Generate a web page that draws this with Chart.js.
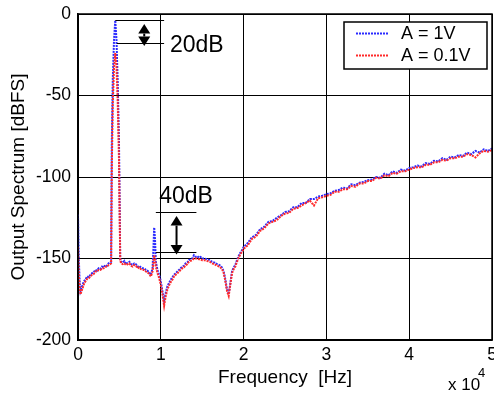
<!DOCTYPE html>
<html>
<head>
<meta charset="utf-8">
<script src="https://cdn.jsdelivr.net/npm/chart.js@4.4.0/dist/chart.umd.min.js"></script>
<style>
  html, body { margin: 0; padding: 0; background: #fff; }
  #wrap { width: 494px; height: 394px; position: relative; }
</style>
</head>
<body>
<div id="wrap"><canvas id="spectrum"></canvas></div>
<script>
// frequency axis in units of 10^4 Hz
const freq = [
  0, 0.01, 0.02, 0.03, 0.05, 0.07, 0.09, 0.11, 0.13, 0.15, 0.17, 0.19, 0.21, 0.23, 0.25, 0.27, 0.29, 0.31, 0.33, 0.35, 0.37, 0.39,
  0.40, 0.408, 0.42, 0.435, 0.45, 0.465, 0.48, 0.495, 0.51,
  0.52, 0.54, 0.56, 0.58, 0.60, 0.62, 0.64, 0.66, 0.68, 0.70, 0.72, 0.74, 0.76, 0.78, 0.80, 0.82, 0.84, 0.86, 0.88,
  0.90, 0.91, 0.92, 0.93, 0.94, 0.96, 0.98, 1.00, 1.02, 1.04, 1.06, 1.08, 1.10, 1.12, 1.14, 1.16, 1.18, 1.20, 1.22, 1.24,
  1.26, 1.28, 1.30, 1.32, 1.34, 1.36, 1.38, 1.40, 1.42, 1.44, 1.46, 1.48, 1.50, 1.53, 1.56, 1.59, 1.62, 1.65, 1.68, 1.71,
  1.74, 1.76, 1.78, 1.80, 1.82, 1.84, 1.86, 1.88, 1.90, 1.92, 1.94, 1.96, 1.98, 2.00,
  2.05, 2.10, 2.15, 2.20, 2.25, 2.30, 2.35, 2.40, 2.45, 2.50, 2.55, 2.60, 2.65, 2.70, 2.75, 2.80, 2.85, 2.90, 2.95, 3.00,
  3.05, 3.10, 3.15, 3.20, 3.25, 3.30, 3.35, 3.40, 3.45, 3.50, 3.55, 3.60, 3.65, 3.70, 3.75, 3.80, 3.85, 3.90, 3.95, 4.00,
  4.05, 4.10, 4.15, 4.20, 4.25, 4.30, 4.35, 4.40, 4.45, 4.50, 4.55, 4.60, 4.65, 4.70, 4.75, 4.80, 4.85, 4.90, 4.95, 5.00
];

// A = 1V
const spec1V = [
  -123, -150, -164, -170, -167, -164, -163, -161, -161.5, -160, -159, -158.5, -157, -157.5, -156, -156.5, -155, -155.5, -154, -154.5, -153, -152.5,
  -152, -80, -40, -16, -4, -16, -42, -78, -150,
  -152, -152.5, -151.5, -153.5, -152.5, -152, -153.5, -154, -153, -153.5, -155, -154.5, -155.5, -156, -156, -157, -157.5, -158.5, -160,
  -156, -145, -131, -138, -152, -157, -160, -164, -170, -176, -171, -167, -165, -163, -161.5, -160, -159, -158, -157, -156,
  -155, -154.5, -153, -152.5, -151, -150.5, -150, -148, -149, -148.5, -149.5, -149, -150, -150, -150.5, -151, -152, -152.5, -153.5, -154,
  -155.5, -158, -163, -169, -172, -165, -158, -155.5, -154, -151, -148.5, -146.5, -145, -143,
  -140.5, -137, -135.5, -132, -130.5, -127.5, -127, -125, -123.5, -121.5, -121, -118.5, -118.5, -116, -116, -113.5, -113.5, -112, -111.5, -110.5,
  -110, -108.5, -108, -106.5, -107, -104.5, -105, -103.5, -103, -102, -101.5, -100, -100.5, -98, -99, -96.5, -97.5, -95.5, -96, -94.5,
  -94, -93, -93.5, -91.5, -92, -90, -90.5, -88.5, -89.5, -87.5, -88, -86.5, -87, -85, -86, -84, -85, -83, -84, -82.5
];

// A = 0.1V
const spec01V = [
  -143, -160, -168, -172, -169, -166, -164, -162.5, -162, -161, -160, -159.5, -158, -158, -157, -157, -156, -156, -155, -155, -154, -153.5,
  -153, -95, -55, -33, -24, -32, -55, -90, -151,
  -153, -153.5, -153, -154, -153.5, -153, -154.5, -155, -154, -154.5, -156, -155.5, -156.5, -157, -157, -158, -158.5, -159.5, -161,
  -158, -153, -148, -150, -155, -159, -162, -166, -172, -179, -173, -169, -166.5, -164.5, -163, -161, -160, -159, -158, -157,
  -156, -155.5, -154, -153.5, -152, -151.5, -151, -150, -150, -150, -150.5, -150.5, -151, -151, -151.5, -152, -153, -153.5, -154.5, -155,
  -156.5, -159, -164, -170, -173, -166, -159, -156.5, -155, -152, -149.5, -147.5, -146, -144,
  -142, -138, -136.5, -133, -131.5, -128.5, -127.5, -126.5, -124, -122.5, -122, -119.5, -119, -117.5, -116, -114.5, -117.5, -113, -112.5, -111.5,
  -111, -109, -109, -107.5, -107.5, -105.5, -106, -104, -104, -102.5, -102.5, -100.5, -101, -99, -99.5, -97.5, -98, -96.5, -96.5, -95.5,
  -94.5, -94, -94, -92.5, -92.5, -91, -91, -89.5, -90, -88.5, -88.5, -87.5, -87.5, -86, -86.5, -88, -85.5, -84, -84.5, -83.5
];

const seriesNames = ['A = 1V', 'A = 0.1V'];
const seriesColors = ['#2a2aff', '#ff2a2a'];

// annotations, in data units
const notes = [
  { label: '20dB', tx: 1.11, ty: -23.6, lines: [[0.45, 1.04, -3.7], [0.47, 1.04, -18]], arrow: [0.80, -6.2, -19.6] },
  { label: '40dB', tx: 0.98, ty: -115.8, lines: [[0.94, 1.43, -121.7], [0.94, 1.43, -145.8]], arrow: [1.19, -124, -147.5] }
];

const FONT = 'Liberation Sans, Arial, Helvetica, sans-serif';

const pts = arr => arr.map((v, i) => ({ x: freq[i], y: v }));

const extras = {
  id: 'extras',
  afterDatasetsDraw(chart) {
    const { ctx, chartArea: a, scales: { x, y } } = chart;
    ctx.save();
    // frame
    ctx.strokeStyle = '#000';
    ctx.lineWidth = 1.5;
    ctx.strokeRect(a.left, a.top, a.right - a.left, a.bottom - a.top);

    // dB markers
    ctx.fillStyle = '#000';
    ctx.lineWidth = 1.2;
    notes.forEach(n => {
      n.lines.forEach(l => {
        const yy = Math.round(y.getPixelForValue(l[2])) + 0.5;
        ctx.beginPath();
        ctx.moveTo(x.getPixelForValue(l[0]), yy);
        ctx.lineTo(x.getPixelForValue(l[1]), yy);
        ctx.stroke();
      });
      const ax = x.getPixelForValue(n.arrow[0]);
      const y1 = y.getPixelForValue(n.arrow[1]);
      const y2 = y.getPixelForValue(n.arrow[2]);
      const h = 9.5, w = 6;
      ctx.beginPath();
      ctx.moveTo(ax, y1); ctx.lineTo(ax - w, y1 + h); ctx.lineTo(ax + w, y1 + h); ctx.closePath();
      ctx.fill();
      ctx.beginPath();
      ctx.moveTo(ax, y2); ctx.lineTo(ax - w, y2 - h); ctx.lineTo(ax + w, y2 - h); ctx.closePath();
      ctx.fill();
      ctx.lineWidth = 2;
      ctx.beginPath();
      ctx.moveTo(ax, y1 + h); ctx.lineTo(ax, y2 - h);
      ctx.stroke();
      ctx.lineWidth = 1.2;
      ctx.font = '23px ' + FONT;
      ctx.textBaseline = 'alphabetic';
      ctx.textAlign = 'left';
      ctx.fillText(n.label, x.getPixelForValue(n.tx), y.getPixelForValue(n.ty));
    });

    // legend box
    const bx = a.right - 148, by = a.top + 8, bw = 143, bh = 47;
    ctx.fillStyle = '#fff';
    ctx.fillRect(bx, by, bw, bh);
    ctx.strokeStyle = '#000';
    ctx.lineWidth = 1.5;
    ctx.strokeRect(bx, by, bw, bh);
    ctx.font = '18px ' + FONT;
    ctx.textBaseline = 'middle';
    seriesNames.forEach((name, i) => {
      const ly = by + 11.5 + i * 22;
      ctx.strokeStyle = seriesColors[i];
      ctx.lineWidth = 2;
      ctx.setLineDash([2, 1]);
      ctx.beginPath();
      ctx.moveTo(bx + 12, ly);
      ctx.lineTo(bx + 44, ly);
      ctx.stroke();
      ctx.setLineDash([]);
      ctx.fillStyle = '#000';
      ctx.fillText(name, bx + 57, ly + 0.5);
    });

    // exponent
    ctx.font = '17px ' + FONT;
    ctx.textBaseline = 'alphabetic';
    ctx.fillText('x 10', 448, 390);
    ctx.font = '13px ' + FONT;
    ctx.fillText('4', 478, 377);
    ctx.restore();
  }
};

new Chart(document.getElementById('spectrum'), {
  type: 'line',
  data: {
    datasets: [
      { label: seriesNames[0], data: pts(spec1V), borderColor: seriesColors[0], borderWidth: 2,
        borderDash: [2, 1], pointRadius: 0, fill: false, tension: 0, order: 1 },
      { label: seriesNames[1], data: pts(spec01V), borderColor: seriesColors[1], borderWidth: 2,
        borderDash: [2, 1], pointRadius: 0, fill: false, tension: 0, order: 0 }
    ]
  },
  options: {
    responsive: true,
    maintainAspectRatio: false,
    animation: false,
    devicePixelRatio: 1,
    layout: { padding: { top: 14, right: 2, left: 0, bottom: 0 } },
    plugins: { legend: { display: false }, tooltip: { enabled: false } },
    scales: {
      x: {
        type: 'linear', min: 0, max: 5,
        ticks: { stepSize: 1, color: '#000', font: { family: FONT, size: 17.5 }, padding: 5, maxRotation: 0 },
        grid: { color: '#000', lineWidth: 1, drawTicks: false },
        border: { color: '#000', width: 1.5 },
        title: { display: true, text: 'Frequency  [Hz]', color: '#000', font: { family: FONT, size: 19 }, padding: { top: 0, bottom: 4.5 } },
        afterFit(s) { s.height = 54; s.paddingLeft = 0; s.paddingRight = 0; }
      },
      y: {
        min: -200, max: 0,
        ticks: { stepSize: 50, color: '#000', font: { family: FONT, size: 17.5 }, padding: 7 },
        grid: { color: '#000', lineWidth: 1, drawTicks: false },
        border: { color: '#000', width: 1.5 },
        title: { display: true, text: 'Output Spectrum [dBFS]', color: '#000', font: { family: FONT, size: 19 }, padding: { top: 7.5, bottom: 0 } },
        afterFit(s) { s.width = 78; s.paddingTop = 0; s.paddingBottom = 0; }
      }
    }
  },
  plugins: [extras]
});
</script>
</body>
</html>
